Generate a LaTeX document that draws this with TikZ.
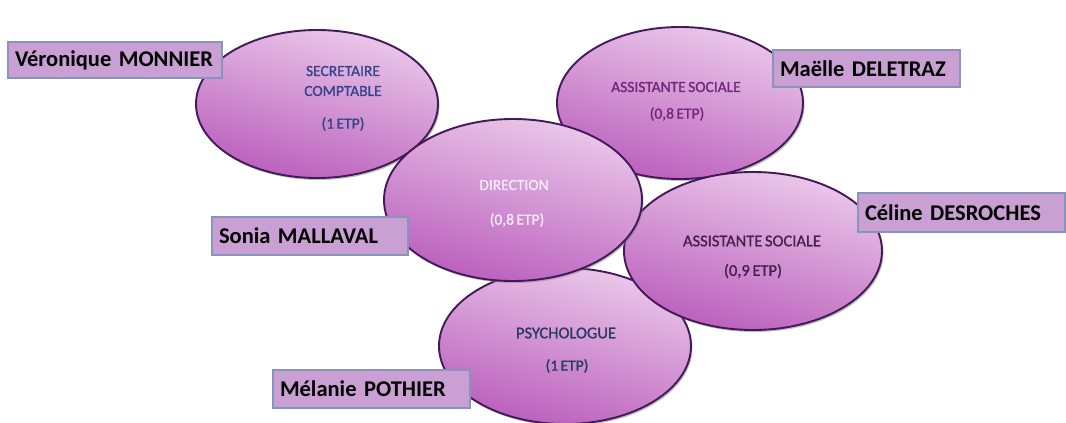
\documentclass[tikz,border=0pt]{standalone}
\usepackage{fontspec}
\setmainfont{Carlito}[WordSpace=0.7]
\usetikzlibrary{shapes.geometric,shadows}
\definecolor{ellTop}{HTML}{EBC9EA}
\definecolor{ellBot}{HTML}{BA5EBC}
\definecolor{ellLine}{HTML}{43195A}
\definecolor{boxFill}{HTML}{C99FD4}
\definecolor{boxLine}{HTML}{8794BC}
\definecolor{tSec}{HTML}{34448A}
\definecolor{tAs}{HTML}{73277A}
\definecolor{tDir}{HTML}{F6ECF6}
\definecolor{tPsy}{HTML}{263A62}
\definecolor{tAs2}{HTML}{44214C}
\tikzset{
  role/.style={ellipse, draw=ellLine, line width=1.9pt, top color=ellTop, bottom color=ellBot, shading angle=-15,
    drop shadow={opacity=0.5, shadow xshift=1.5pt, shadow yshift=-2pt}, inner sep=0pt},
  roletxt/.style={font=\fontsize{15.5}{17}\selectfont\addfontfeature{FakeBold=1}, align=center, inner sep=0pt},
  bigtxt/.style={font=\fontsize{16.5}{18}\selectfont\addfontfeature{FakeBold=1}},
  namebox/.style={draw=boxLine, line width=1.4pt, fill=boxFill, inner xsep=7pt, inner ysep=0pt,
    align=left, font=\fontsize{22.5}{26}\bfseries\selectfont, text=black}
}
\begin{document}
\begin{tikzpicture}[x=1pt,y=-1pt]
\useasboundingbox[fill=white] (0,0) rectangle (1066,423);
% ellipses
\node[role, minimum width=242pt, minimum height=148pt] (sec) at (317,104) {};
\node[role, minimum width=246pt, minimum height=152pt] (as1) at (680,103) {};
\node[role, minimum width=252pt, minimum height=156pt] (psy) at (565,346) {};
\node[role, minimum width=258pt, minimum height=158pt] (as2) at (753,251) {};
\node[role, minimum width=258pt, minimum height=162pt] (dir) at (513,200) {};
% ellipse texts
\node[roletxt, text=tSec] (secA) at (343,71) {SECRETAIRE};
\node[roletxt, text=tSec] (secB) at (343,91) {COMPTABLE};
\node[roletxt, text=tSec] (secC) at (343,124) {(1 ETP)};
\node[roletxt, text=tAs] (as1A) at (676,87) {ASSISTANTE SOCIALE};
\node[roletxt, text=tAs] (as1B) at (677,114) {(0,8 ETP)};
\node[roletxt, text=tDir] (dirA) at (514,185) {DIRECTION};
\node[roletxt, text=tDir] (dirB) at (517,220) {(0,8 ETP)};
\node[roletxt, bigtxt, text=tPsy] (psyA) at (566,333) {PSYCHOLOGUE};
\node[roletxt, text=tPsy] (psyB) at (567,366) {(1 ETP)};
\node[roletxt, bigtxt, text=tAs2] (as2A) at (752,241) {ASSISTANTE SOCIALE};
\node[roletxt, bigtxt, text=tAs2] (as2B) at (753,271) {(0,9 ETP)};
% name boxes
\node[namebox, minimum height=36pt, text width=200pt] (n1) at (115,60) {Véronique MONNIER};
\node[namebox, minimum height=37pt, text width=173pt] (n2) at (866.5,68.5) {Maëlle DELETRAZ};
\node[namebox, minimum height=39pt, text width=193pt] (n3) at (961.5,212.5) {Céline DESROCHES};
\node[namebox, minimum height=38pt, text width=182pt] (n4) at (310,236) {Sonia MALLAVAL};
\node[namebox, minimum height=38pt, text width=183pt] (n5) at (371.5,389) {Mélanie POTHIER};
\end{tikzpicture}
\end{document}
